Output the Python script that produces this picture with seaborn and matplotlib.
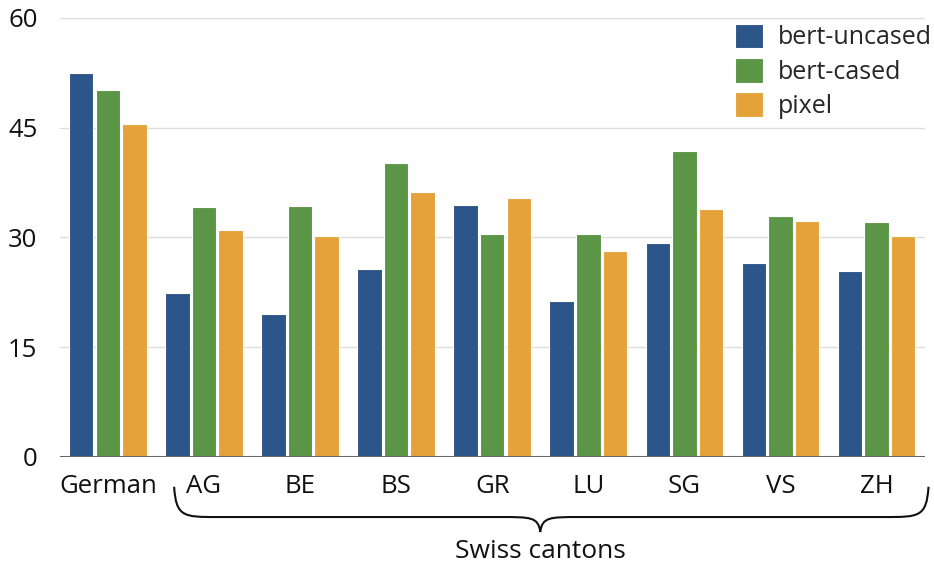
import numpy as np
import pandas as pd
import seaborn as sns
import matplotlib.pyplot as plt
from matplotlib.path import Path
from matplotlib.patches import PathPatch
from matplotlib.transforms import blended_transform_factory

# data
categories = ["German", "AG", "BE", "BS", "GR", "LU", "SG", "VS", "ZH"]
bert_uncased = [52.5, 22.4, 19.5, 25.7, 34.4, 21.3, 29.2, 26.5, 25.4]
bert_cased = [50.1, 34.2, 34.3, 40.2, 30.5, 30.5, 41.8, 32.9, 32.1]
pixel = [45.5, 31.0, 30.2, 36.2, 35.4, 28.2, 33.9, 32.3, 30.2]
models = ["bert-uncased", "bert-cased", "pixel"]
colors = ["#2c5589", "#5b9646", "#e5a23b"]

df = pd.DataFrame({"region": categories * 3,
                   "model": np.repeat(models, len(categories)),
                   "score": bert_uncased + bert_cased + pixel})

sns.set_theme(style="white")
plt.rcParams["font.family"] = ["Open Sans", "DejaVu Sans"]

fig = plt.figure(figsize=(9.34, 5.62), dpi=100)
ax = fig.add_axes([0.064, 0.187, 0.926, 0.781])

sns.barplot(data=df, x="region", y="score", hue="model", palette=colors,
            saturation=1, width=0.83, gap=0.08, edgecolor="white", linewidth=0.8,
            ax=ax, zorder=3)

ax.set_ylim(0, 60)
ax.set_xlim(-0.5, 8.5)
ax.set_yticks([0, 15, 30, 45, 60])
ax.yaxis.grid(True, color="#dddddd", lw=1)
ax.set_axisbelow(True)
ax.axhline(0, color="#666666", lw=1.5, zorder=4)
for s in ax.spines.values():
    s.set_visible(False)
ax.set_xlabel("")
ax.set_ylabel("")
ax.tick_params(axis="x", length=0, pad=12, labelsize=18.5, colors="#111111")
ax.tick_params(axis="y", length=0, pad=16, labelsize=18.5, colors="#111111")

leg = ax.legend(loc="upper right", bbox_to_anchor=(1.02, 1.01), frameon=False,
                fontsize=18, handlelength=1.1, handleheight=1.15, handletextpad=0.6,
                labelspacing=0.3, borderaxespad=0.0)

# brace under the Swiss cantons
tr = blended_transform_factory(ax.transData, ax.transAxes)
xl, xr, xm = 0.69, 8.54, 4.5
yt, ym, yp = -0.068, -0.137, -0.171
verts = [(xl, yt), (xl + 0.02, ym), (xl + 0.1, ym), (xl + 0.45, ym),
         (xm - 0.4, ym),
         (xm - 0.1, ym), (xm - 0.02, ym), (xm, yp),
         (xm + 0.02, ym), (xm + 0.1, ym), (xm + 0.4, ym),
         (xr - 0.45, ym),
         (xr - 0.1, ym), (xr - 0.02, ym), (xr, yt)]
codes = [Path.MOVETO, Path.CURVE4, Path.CURVE4, Path.CURVE4,
         Path.LINETO,
         Path.CURVE4, Path.CURVE4, Path.CURVE4,
         Path.CURVE4, Path.CURVE4, Path.CURVE4,
         Path.LINETO,
         Path.CURVE4, Path.CURVE4, Path.CURVE4]
ax.add_patch(PathPatch(Path(verts, codes), transform=tr, fill=False,
                       lw=1.5, color="#111111", clip_on=False))
ax.text(xm, -0.215, "Swiss cantons", transform=tr, ha="center", va="center",
        fontsize=19, color="#111111")

fig.savefig("out.png", dpi=100)
